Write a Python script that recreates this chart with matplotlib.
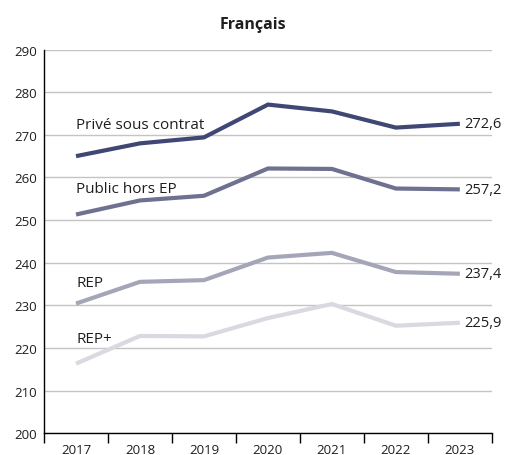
import matplotlib.pyplot as plt

plt.rcParams['font.family'] = ['Open Sans', 'DejaVu Sans']

years = ['2017', '2018', '2019', '2020', '2021', '2022', '2023']
prive = [265.0, 268.0, 269.4, 277.1, 275.5, 271.7, 272.6]
public = [251.3, 254.6, 255.7, 262.1, 262.0, 257.4, 257.2]
rep = [230.4, 235.5, 235.9, 241.2, 242.3, 237.8, 237.4]
rep_plus = [216.3, 222.8, 222.7, 227.0, 230.3, 225.2, 225.9]
series_names = ['Privé sous contrat', 'Public hors EP', 'REP', 'REP+']
colors = ['#3f4775', '#6e7290', '#a4a6b8', '#d8d9e1']

# label y positions (data units) for the series names on the left
name_y = [272.5, 257.5, 235.4, 222.3]

fig = plt.figure(figsize=(5.06, 4.56), dpi=100)
ax = fig.add_axes([0.087, 0.048, 0.885, 0.841])

x = list(range(len(years)))
for vals, name, c, ny in zip([prive, public, rep, rep_plus], series_names, colors, name_y):
	ax.plot(x, vals, color=c, lw=3, solid_capstyle='butt', solid_joinstyle='miter', zorder=3)
	ax.text(0, ny, name, fontsize=11, color='#1e1e1e', ha='left', va='center')
	ax.annotate(f'{vals[-1]:.1f}'.replace('.', ','), (x[-1], vals[-1]), xytext=(3, 0),
		textcoords='offset points', fontsize=10.5, color='#1e1e1e', ha='left', va='center')

ax.set_xlim(-0.5, len(years) - 0.5)
ax.set_ylim(200, 290)
ax.set_yticks(range(200, 291, 10))
ax.grid(axis='y', color='#c4c4c4', lw=1, zorder=0)
ax.tick_params(axis='y', length=0, pad=5, labelsize=9.5, labelcolor='#1e1e1e')

ax.set_xticks([i - 0.5 for i in range(len(years) + 1)])
ax.set_xticklabels([])
ax.set_xticks(x, minor=True)
ax.set_xticklabels(years, minor=True)
ax.tick_params(axis='x', which='major', length=7.5, width=1, color='black', direction='out')
ax.tick_params(axis='x', which='minor', length=0, pad=7, labelsize=9.5, labelcolor='#1e1e1e')

for s in ['top', 'right']:
	ax.spines[s].set_visible(False)
for s in ['left', 'bottom']:
	ax.spines[s].set_linewidth(1)
	ax.spines[s].set_color('black')

fig.text(0.5, 0.945, 'Français', ha='center', va='center', fontsize=11.5, fontweight='bold', color='#1e1e1e')

fig.savefig('out.png', dpi=100)
